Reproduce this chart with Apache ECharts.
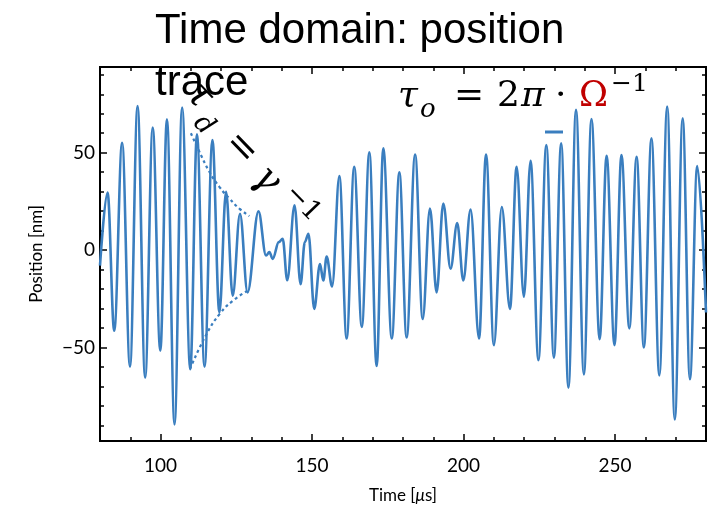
<!DOCTYPE html>
<html>
<head>
<meta charset="utf-8">
<script src="https://cdn.jsdelivr.net/npm/echarts@6/dist/echarts.min.js"></script>
<style>
  html, body { margin: 0; padding: 0; background: #fff; }
  #chart { width: 719px; height: 510px; }
</style>
</head>
<body>
<div id="chart"></div>
<script>
// Position trace: turning points of the oscillation (time in µs, position in nm)
const time = [
  80, 82.5, 84.7, 87.3, 89.9, 92.4, 94.9, 97.4, 99.9, 102.1,
  104.6, 107.1, 109.8, 112.0, 114.5, 117.1, 119.4, 121.6, 123.8, 126.2,
  128.7, 132.3, 134.8, 135.9, 137.0, 139.0, 140.3, 141.8, 144.2, 146.2,
  147.6, 148.8, 150.7, 152.6, 153.7, 154.8, 156.6, 159.0, 161.4, 163.9,
  166.4, 168.9, 171.3, 173.5, 176.3, 178.8, 181.2, 184.0, 186.5, 188.9,
  191.1, 193.3, 195.7, 197.9, 199.9, 202.3, 205.1, 207.4, 210.0, 212.6,
  215.3, 217.5, 219.9, 222.1, 224.7, 227.3, 229.8, 232.2, 234.6, 237.1,
  239.7, 242.2, 244.9, 247.2, 249.8, 252.1, 254.7, 257.1, 259.5, 262.0,
  264.6, 267.2, 269.7, 272.3, 274.7, 277.1, 280
];
const position = [
  -8, 29.5, -41.4, 55.1, -59.8, 74.0, -65.5, 62.9, -51.7, 67.2,
  -89.5, 73.2, -61.2, 59.4, -59.8, 56.5, -32.0, 29.9, -23.4, 18.7,
  -21.7, 19.9, -2.8, -1.0, -4.5, 4.1, 5.8, -15.5, 23.0, -17.5,
  4.1, 8.4, -30.2, -7.1, -15.6, -3.3, -18.6, 38.0, -45.4, 42.8,
  -39.4, 50.2, -59.5, 52.2, -45.4, 39.9, -44.9, 49.1, -35.4, 21.3,
  -21.7, 23.9, -9.6, 13.9, -15.6, 20.8, -45.4, 49.1, -48.8, 22.1,
  -30.2, 42.8, -23.9, 45.9, -56.5, 53.9, -55.2, 54.8, -70.6, 72.0,
  -63.8, 67.3, -45.7, 48.4, -48.8, 48.8, -40.2, 47.9, -50.0, 57.4,
  -64.3, 73.7, -87.0, 67.7, -66.3, 43.1, -32
];

// Decay envelope (dashed)
const envUpperTime = [110, 112.8, 116.1, 119.4, 122.7, 126.0, 129.3];
const envUpper     = [60, 50.5, 40.2, 32.5, 26.5, 21.3, 17.5];
const envLowerTime = [109.7, 115.2, 119.6, 124.0, 128.6];
const envLower     = [-61, -43, -32.6, -25.8, -21];

// Axis ticks and labels
const xMajor = [100, 150, 200, 250];
const xMinor = [90, 110, 120, 130, 140, 160, 170, 180, 190, 210, 220, 230, 240, 260, 270];
const yMajor = [-50, 0, 50];
const yMinor = [-90, -80, -70, -60, -40, -30, -20, -10, 10, 20, 30, 40, 60, 70, 80, 90];

const zip = (xs, ys) => xs.map((x, i) => [x, ys[i]]);

const BLUE = '#3a7ebf';
const LABEL_FONT = 'Lato, "Open Sans", sans-serif';
const MATH_FONT = '"DejaVu Serif", "Liberation Serif", serif';

function xAxisDef(pos, ticks, len, labels) {
  return {
    type: 'value', min: 80, max: 280, position: pos,
    axisLine: { show: true, onZero: false, lineStyle: { color: '#000', width: 2 } },
    axisTick: { show: true, inside: true, length: len, customValues: ticks,
                lineStyle: { color: '#000', width: 1.5 } },
    axisLabel: labels ? { show: true, customValues: ticks, color: '#000',
                          fontFamily: LABEL_FONT, fontSize: 19, margin: 15 }
                      : { show: false },
    splitLine: { show: false }
  };
}
function yAxisDef(pos, ticks, len, labels) {
  return {
    type: 'value', min: -98, max: 94, position: pos,
    axisLine: { show: true, onZero: false, lineStyle: { color: '#000', width: 2 } },
    axisTick: { show: true, inside: true, length: len, customValues: ticks,
                lineStyle: { color: '#000', width: 1.5 } },
    axisLabel: labels ? { show: true, customValues: ticks, color: '#000',
                          fontFamily: LABEL_FONT, fontSize: 19, margin: 5,
                          formatter: v => (v < 0 ? '\u2212' + Math.abs(v) : String(v)) }
                      : { show: false },
    splitLine: { show: false }
  };
}

const xAxes = [
  Object.assign(xAxisDef('bottom', xMajor, 7, true), {
    name: 'Time [{it|\u03bc}s]', nameLocation: 'middle', nameGap: 46,
    nameTextStyle: { color: '#000', fontFamily: LABEL_FONT, fontSize: 17,
                     rich: { it: { fontStyle: 'italic', fontFamily: LABEL_FONT, fontSize: 17, color: '#000' } } }
  }),
  xAxisDef('bottom', xMinor, 4, false),
  xAxisDef('top', xMajor, 7, false),
  xAxisDef('top', xMinor, 4, false)
];
const yAxes = [
  Object.assign(yAxisDef('left', yMajor, 7, true), {
    name: 'Position [nm]', nameLocation: 'middle', nameGap: 55,
    nameTextStyle: { color: '#000', fontFamily: LABEL_FONT, fontSize: 17 }
  }),
  yAxisDef('left', yMinor, 4, false),
  yAxisDef('right', yMajor, 7, false),
  yAxisDef('right', yMinor, 4, false)
];

// Rotation of the decay-time label (clockwise)
const ROT = -46 * Math.PI / 180;

const option = {
  animation: false,
  backgroundColor: '#fff',
  grid: { left: 100, right: 13, top: 67, bottom: 69, containLabel: false },
  xAxis: xAxes,
  yAxis: yAxes,
  series: [
    {
      type: 'line', data: zip(time, position),
      showSymbol: false, smooth: 0.36, smoothMonotone: 'x',
      lineStyle: { color: BLUE, width: 2.6 }, z: 3
    },
    {
      type: 'line', data: zip(envUpperTime, envUpper),
      showSymbol: false, smooth: true,
      lineStyle: { color: BLUE, width: 2.2, type: [3, 3] }, z: 2
    },
    {
      type: 'line', data: zip(envLowerTime, envLower),
      showSymbol: false, smooth: true,
      lineStyle: { color: BLUE, width: 2.2, type: [3, 3] }, z: 2
    }
  ],
  graphic: [
    // Title
    {
      type: 'text', x: 155, y: 5, z: 20,
      style: { text: 'Time domain: position\ntrace', fill: '#000',
               font: '42px "Liberation Sans", Arial, sans-serif',
               lineHeight: 52, verticalAlign: 'top', align: 'left' }
    },
    // Oscillation period  τo = 2π · Ω^-1
    { type: 'text', x: 398, y: 97, z: 20,
      style: { text: '\u03c4', fill: '#000', font: 'italic 36px ' + MATH_FONT, verticalAlign: 'middle' } },
    { type: 'text', x: 420, y: 110, z: 20,
      style: { text: 'o', fill: '#000', font: 'italic 26px ' + MATH_FONT, verticalAlign: 'middle' } },
    { type: 'text', x: 454, y: 97, z: 20,
      style: { text: '=', fill: '#000', font: '36px ' + MATH_FONT, verticalAlign: 'middle' } },
    { type: 'text', x: 497, y: 97, z: 20,
      style: { text: '2', fill: '#000', font: '36px ' + MATH_FONT, verticalAlign: 'middle' } },
    { type: 'text', x: 521, y: 97, z: 20,
      style: { text: '\u03c0', fill: '#000', font: 'italic 36px ' + MATH_FONT, verticalAlign: 'middle' } },
    { type: 'text', x: 555, y: 97, z: 20,
      style: { text: '\u00b7', fill: '#000', font: '36px ' + MATH_FONT, verticalAlign: 'middle' } },
    { type: 'text', x: 579, y: 97, z: 20,
      style: { text: '\u03a9', fill: '#c00000', font: '35px ' + MATH_FONT, verticalAlign: 'middle' } },
    { type: 'text', x: 611, y: 84, z: 20,
      style: { text: '\u22121', fill: '#000', font: '25px ' + MATH_FONT, verticalAlign: 'middle' } },
    // small blue bar
    { type: 'line', z: 20, shape: { x1: 545, y1: 132, x2: 563, y2: 132 },
      style: { stroke: BLUE, lineWidth: 3 } },
    // Decay time  τd = γ^-1, written along the envelope
    {
      type: 'group', x: 199, y: 96, rotation: ROT, z: 20,
      children: [
        { type: 'text', x: 0, y: 0,
          style: { text: '\u03c4', fill: '#000', font: 'italic 38px ' + MATH_FONT, align: 'center', verticalAlign: 'middle' } },
        { type: 'text', x: 24, y: 17,
          style: { text: 'd', fill: '#000', font: 'italic 27px ' + MATH_FONT, align: 'center', verticalAlign: 'middle' } },
        { type: 'text', x: 67, y: 6,
          style: { text: '=', fill: '#000', font: '38px ' + MATH_FONT, align: 'center', verticalAlign: 'middle' } },
        { type: 'text', x: 107, y: 10,
          style: { text: '\u03b3', fill: '#000', font: 'italic 38px ' + MATH_FONT, align: 'center', verticalAlign: 'middle' } },
        { type: 'text', x: 149, y: 0,
          style: { text: '\u22121', fill: '#000', font: '27px ' + MATH_FONT, align: 'center', verticalAlign: 'middle' } }
      ]
    }
  ]
};

const chart = echarts.init(document.getElementById('chart'), null, { renderer: 'canvas' });
chart.setOption(option);
</script>
</body>
</html>
